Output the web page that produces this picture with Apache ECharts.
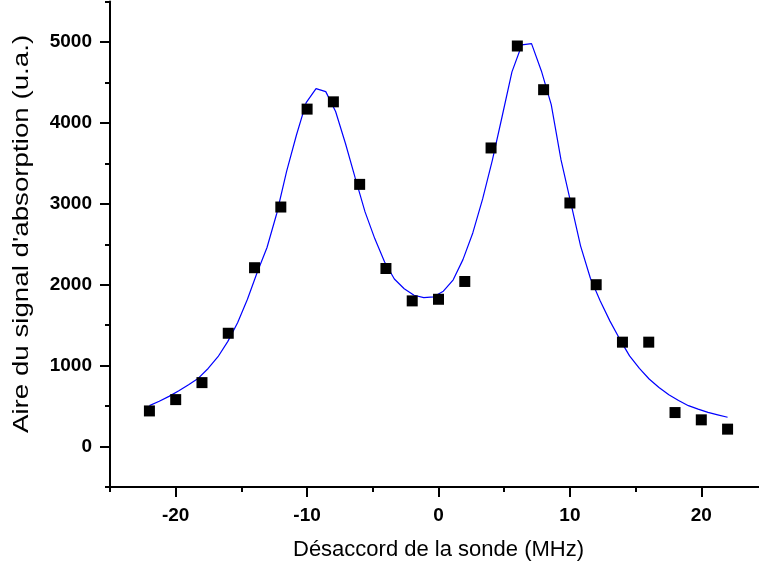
<!DOCTYPE html>
<html>
<head>
<meta charset="utf-8">
<script src="https://cdn.jsdelivr.net/npm/echarts@6/dist/echarts.min.js"></script>
<style>html,body{margin:0;padding:0;background:#fff}#c{width:759px;height:573px}</style>
</head>
<body>
<div id="c"></div>
<script>
// Measured points
var pointX = [-22,-20,-18,-16,-14,-12,-10,-8,-6,-4,-2,0,2,4,6,8,10,12,14,16,18,20,22];
var pointY = [440,580,790,1400,2210,2960,4170,4260,3240,2200,1800,1820,2040,3690,4950,4410,3010,2000,1290,1290,420,330,215];
// Fitted curve
var curveX = [-22.00,-21.25,-20.51,-19.76,-19.02,-18.27,-17.53,-16.78,-16.03,-15.29,-14.54,-13.80,-13.05,-12.31,-11.56,-10.81,-10.07,-9.32,-8.58,-7.83,-7.08,-6.34,-5.59,-4.85,-4.10,-3.36,-2.61,-1.86,-1.12,-0.37,0.37,1.12,1.86,2.61,3.36,4.10,4.85,5.59,6.34,7.08,7.83,8.58,9.32,10.07,10.81,11.56,12.31,13.05,13.80,14.54,15.29,16.03,16.78,17.53,18.27,19.02,19.76,20.51,21.25,22.00];
var curveY = [506,560,620,690,765,845,965,1110,1300,1530,1820,2150,2460,2880,3400,3850,4251,4423,4386,4140,3745,3320,2900,2570,2280,2070,1950,1870,1840,1850,1920,2060,2310,2640,3060,3540,4085,4630,4963,4979,4642,4225,3545,3010,2480,2080,1800,1550,1325,1120,965,835,730,640,570,505,462,422,392,362];
// Axis ticks
var xMajor = [-20,-10,0,10,20];
var xMinor = [-25,-15,-5,5,15,25];
var yMajor = [0,1000,2000,3000,4000,5000];
var yMinor = [-500,500,1500,2500,3500,4500,5500];
var xTitle = 'Désaccord de la sonde (MHz)';
var yTitle = "Aire du signal d'absorption (u.a.)";

var font = '"Liberation Sans", Arial, sans-serif';
var pts = pointX.map(function(x,i){return [x,pointY[i]];});
var crv = curveX.map(function(x,i){return [x,curveY[i]];});
function plain(v){ return String(v); }

var chart = echarts.init(document.getElementById('c'));
var lineStyle = {color:'#000', width:2};
chart.setOption({
  animation:false,
  backgroundColor:'#fff',
  grid:{left:110, top:1.5, width:657, bottom:86, containLabel:false, outerBoundsMode:'none'},
  xAxis:[{
    type:'value', min:-25, max:25,
    axisLine:{show:true, onZero:false, lineStyle:lineStyle},
    axisTick:{show:true, length:10, lineStyle:lineStyle, customValues:xMajor},
    axisLabel:{show:true, customValues:xMajor, formatter:plain, margin:19, fontFamily:font, fontWeight:'bold', fontSize:19, color:'#000'},
    splitLine:{show:false},
    name:xTitle, nameLocation:'middle', nameGap:52,
    nameTextStyle:{fontFamily:font, fontSize:22, color:'#000'}
  },{
    type:'value', min:-25, max:25, position:'bottom', gridIndex:0,
    axisLine:{show:false, onZero:false},
    axisTick:{show:true, length:5, lineStyle:lineStyle, customValues:xMinor},
    axisLabel:{show:false},
    splitLine:{show:false}
  }],
  yAxis:[{
    type:'value', min:-500, max:5500,
    axisLine:{show:true, onZero:false, lineStyle:lineStyle},
    axisTick:{show:true, length:10, lineStyle:lineStyle, customValues:yMajor},
    axisLabel:{show:true, customValues:yMajor, formatter:plain, margin:18, fontFamily:font, fontWeight:'bold', fontSize:19, color:'#000'},
    splitLine:{show:false}
  },{
    type:'value', min:-500, max:5500, position:'left', gridIndex:0,
    axisLine:{show:false, onZero:false},
    axisTick:{show:true, length:5, lineStyle:lineStyle, customValues:yMinor},
    axisLabel:{show:false},
    splitLine:{show:false}
  }],
  graphic:[{
    type:'text', x:22, y:234, rotation:Math.PI/2, scaleX:1.26, scaleY:1,
    style:{text:yTitle, fontFamily:font, fontSize:22, fill:'#000', align:'center', verticalAlign:'middle'}
  }],
  series:[{
    type:'line', data:crv, showSymbol:false, symbol:'none',
    lineStyle:{color:'#0000ff', width:1.2}, z:2, silent:true
  },{
    type:'scatter', data:pts, symbol:'rect', symbolSize:11,
    itemStyle:{color:'#000', opacity:1}, z:3, silent:true
  }]
});
</script>
</body>
</html>
